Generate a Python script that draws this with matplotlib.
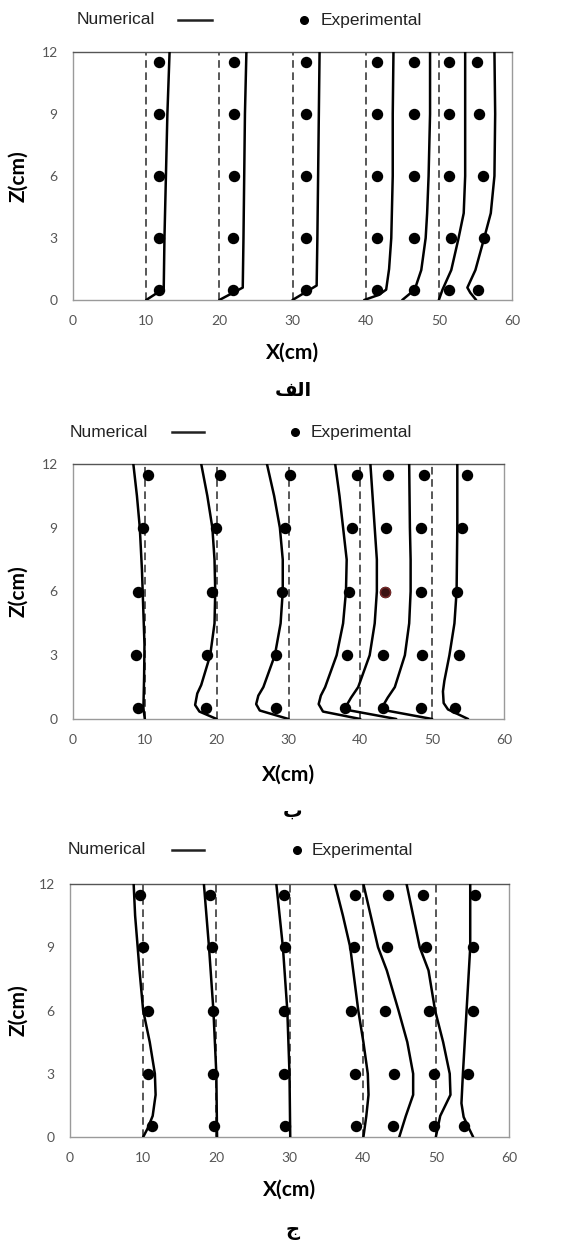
import numpy as np
import matplotlib.pyplot as plt
from matplotlib.lines import Line2D

# dashed reference columns (x in cm)
ref_x = [10, 20, 30, 40, 50]
z_pts = [0.5, 3, 6, 9, 11.5]

# ---- panel a : measured x position at each z, one list per column
exp_a = [
    [11.8, 11.8, 11.8, 11.8, 11.7],
    [21.9, 21.85, 22.0, 22.0, 22.0],
    [31.8, 31.85, 31.9, 31.9, 31.9],
    [41.6, 41.6, 41.6, 41.6, 41.6],
    [46.6, 46.6, 46.6, 46.6, 46.6],
    [51.4, 51.6, 51.4, 51.4, 51.4],
    [55.4, 56.2, 56.1, 55.5, 55.2],
]
num_a = [
    ([10, 12.4, 12.5, 12.7, 12.9, 13.2], [0, 0.55, 3, 6, 9, 12]),
    ([20, 23.2, 23.3, 23.4, 23.5, 23.7], [0, 0.6, 3, 6, 9, 12]),
    ([30, 33.3, 33.4, 33.5, 33.6, 33.7], [0, 0.7, 3, 6, 9, 12]),
    ([39.8, 41.8, 42.8, 43.2, 43.5, 43.7, 43.7, 43.8], [0, 0.25, 0.5, 1.5, 3, 6, 9, 12]),
    ([45, 46.7, 47.6, 48.2, 48.4, 48.6, 48.8, 48.8], [0, 0.5, 1.45, 3, 4.2, 6, 9, 12]),
    ([50, 50.5, 51.7, 52.7, 53.4, 53.6, 53.6, 53.6], [0, 0.5, 1.45, 3, 4.2, 6, 9, 12]),
    ([55.1, 54.3, 53.9, 55.0, 56.2, 57.1, 57.6, 57.7, 57.6], [0, 0.35, 0.6, 1.45, 3, 4.2, 6, 9, 12]),
]

# ---- panel b
exp_b = [
    [9.0, 8.8, 9.1, 9.8, 10.4],
    [18.5, 18.6, 19.3, 19.9, 20.4],
    [28.3, 28.3, 29.1, 29.5, 30.2],
    [37.9, 38.1, 38.4, 38.9, 39.5],
    [43.2, 43.1, 43.4, 43.6, 43.9],
    [48.4, 48.6, 48.4, 48.5, 48.8],
    [53.2, 53.8, 53.4, 54.1, 54.9],
]
num_b = [
    ([10, 9.8, 9.9, 9.95, 9.8, 9.6, 9.3, 8.9, 8.4], [0, 0.5, 2, 3.5, 5, 7, 9, 10.5, 12]),
    ([20, 17.6, 17.0, 17.3, 17.85, 19.1, 19.7, 19.8, 19.7, 19.4, 18.7, 17.85],
     [0, 0.35, 0.66, 1.2, 1.6, 3, 4.5, 6, 7.5, 9, 10.5, 12]),
    ([30, 26.0, 25.5, 25.8, 26.5, 28.1, 28.9, 29.2, 29.2, 28.8, 28.0, 27.0],
     [0, 0.4, 0.7, 1.1, 1.5, 3, 4.5, 6, 7.5, 9, 10.5, 12]),
    ([40, 34.8, 34.2, 34.5, 35.1, 36.7, 37.6, 38.0, 38.1, 37.6, 37.1, 36.5],
     [0, 0.35, 0.7, 1.1, 1.5, 3, 4.5, 6, 7.5, 9, 10.5, 12]),
    ([45, 38.6, 38.1, 38.7, 39.7, 41.3, 42.0, 42.3, 42.3, 42.0, 41.7, 41.4],
     [0, 0.4, 0.65, 1.0, 1.5, 3, 4.5, 6, 7.5, 9, 10.5, 12]),
    ([50, 43.6, 43.2, 43.8, 44.8, 46.2, 46.8, 47.0, 47.0, 46.9, 46.8],
     [0, 0.4, 0.65, 1.0, 1.5, 3, 4.5, 6, 7.5, 9, 12]),
    ([55, 52.2, 51.6, 51.5, 51.7, 52.4, 53.1, 53.4, 53.5, 53.5],
     [0, 0.45, 0.75, 1.3, 1.8, 3, 4.5, 6, 9, 12]),
]

# ---- panel c
exp_c = [
    [11.25, 10.6, 10.7, 10.0, 9.6],
    [19.7, 19.5, 19.6, 19.45, 19.2],
    [29.4, 29.3, 29.3, 29.4, 29.2],
    [39.1, 39.0, 38.4, 38.8, 38.9],
    [44.2, 44.3, 43.1, 43.3, 43.4],
    [49.8, 49.7, 49.0, 48.6, 48.2],
    [53.85, 54.4, 55.1, 55.1, 55.4],
]
num_c = [
    ([10, 10.6, 11.3, 11.7, 11.6, 10.9, 10.0, 9.5, 9.25, 8.9, 8.7],
     [0, 0.4, 1, 2, 3, 4.5, 6, 7.9, 9, 10.5, 12]),
    ([20.1, 20.0, 19.6, 19.0, 18.3], [0, 3, 6, 9, 12]),
    ([30.1, 30.0, 29.7, 29.1, 28.2], [0, 3, 6, 9, 12]),
    ([40.1, 40.5, 40.8, 40.7, 40.1, 39.4, 38.3, 37.3, 36.2],
     [0, 1, 2, 3, 4.5, 6, 9, 10.5, 12]),
    ([45, 45.9, 46.9, 46.9, 46.1, 44.9, 43.3, 42.1, 41.1, 40.1],
     [0, 1, 2, 3, 4.5, 6, 7.9, 9, 10.5, 12]),
    ([50, 50.6, 52.0, 51.9, 51.0, 49.9, 49.0, 47.8, 46.9, 46.0],
     [0, 1, 2, 3, 4.5, 6, 7.9, 9, 10.5, 12]),
    ([55.1, 54.4, 53.8, 53.5, 53.7, 54.2, 54.7, 54.7],
     [0, 0.5, 0.95, 1.6, 3, 6, 9, 12]),
]

x_ticks = [0, 10, 20, 30, 40, 50, 60]
z_ticks = [0, 3, 6, 9, 12]
captions = ['\ufed2\ufedf\ufe8d', '\u0628', '\u062c']   # الف , ب , ج

W, H = 564, 1245
fig = plt.figure(figsize=(W / 100, H / 100), dpi=100)

# axes boxes in pixels: left, right, top, bottom
boxes = [(73, 512, 52, 300), (73, 504, 464, 719), (70, 509, 884, 1137)]
legend_pos = [(77, 178, 212, 304, 321, 20), (70, 172, 204, 295, 311, 432),
              (68, 172, 204, 297, 312, 850)]
xlab_y = [353, 775, 1190]
cap_y = [391, 811, 1231]

panels = [(exp_a, num_a), (exp_b, num_b), (exp_c, num_c)]

for i, (exp, num) in enumerate(panels):
    l, r, t, b = boxes[i]
    ax = fig.add_axes([l / W, 1 - b / H, (r - l) / W, (b - t) / H])
    ax.set_xlim(0, 60)
    ax.set_ylim(0, 12)
    ax.set_xticks(x_ticks)
    ax.set_yticks(z_ticks)
    ax.tick_params(length=0, labelsize=10, labelcolor='#555555', pad=11)
    for lab in ax.get_xticklabels() + ax.get_yticklabels():
        lab.set_family('Lato')
    for s in ax.spines.values():
        s.set_color('#9a9a9a')
        s.set_linewidth(1.0)
    ax.spines['top'].set_color('#555555')

    for xr in ref_x:
        ax.plot([xr, xr], [0, 12], color='#2a2a2a', lw=1.1, ls=(0, (5, 3)), zorder=2)
    for xs, zs in num:
        ax.plot(xs, zs, color='black', lw=1.8, solid_capstyle='round', zorder=3)
    for col in exp:
        ax.plot(col, z_pts, 'o', color='black', ms=7.2, zorder=4)
    if i == 1:
        # one odd-coloured point in the fifth column
        ax.plot(exp[4][2], z_pts[2], 'o', color='#3a1212', mec='#7a2a2a', ms=7.2, zorder=5)

    ax.set_xlabel('X(cm)', fontsize=15, fontweight='bold', family='Lato')
    ax.xaxis.set_label_coords(0.5, 1 - (xlab_y[i] - t) / (b - t), transform=ax.transAxes)
    ax.xaxis.label.set_va('center')
    ax.set_ylabel('Z(cm)', fontsize=15, fontweight='bold', family='Lato')
    ax.yaxis.set_label_coords((18 - l) / (r - l), 0.5, transform=ax.transAxes)
    ax.yaxis.label.set_va('center')

    # legend row above the box
    tx, lx0, lx1, dx, ex, ly = legend_pos[i]
    fig.text(tx / W, 1 - ly / H, 'Numerical', fontsize=12.5, family='Liberation Sans',
             color='#222222', va='center', ha='left')
    fig.add_artist(Line2D([lx0 / W, lx1 / W], [1 - ly / H, 1 - ly / H], color='#222222', lw=1.8))
    fig.add_artist(Line2D([dx / W], [1 - ly / H], marker='o', color='black', ms=5.5, ls='none'))
    fig.text(ex / W, 1 - ly / H, 'Experimental', fontsize=12.5, family='Liberation Sans',
             color='#222222', va='center', ha='left')

    fig.text(293 / W, 1 - cap_y[i] / H, captions[i], fontsize=14, fontweight='bold',
             family='DejaVu Sans', ha='center', va='center')

fig.savefig('out.png', dpi=100, facecolor='white')
